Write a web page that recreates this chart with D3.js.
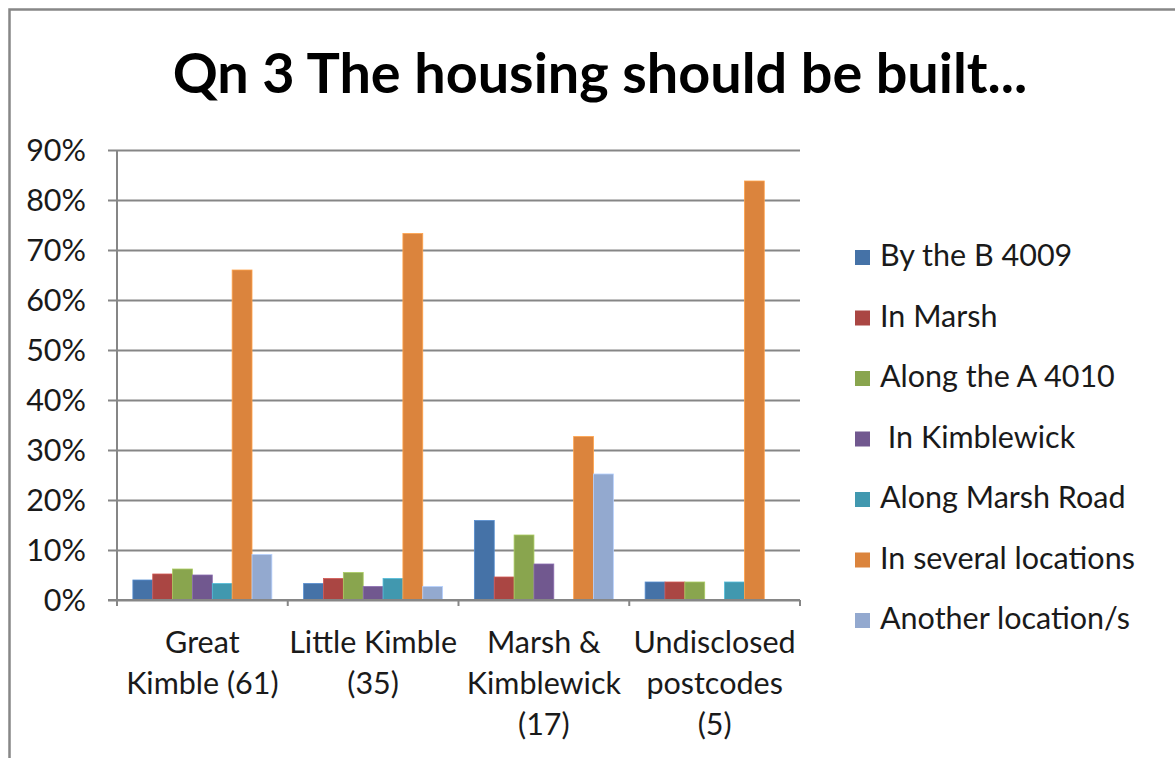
<!DOCTYPE html>
<html>
<head>
<meta charset="utf-8">
<script src="https://cdn.jsdelivr.net/npm/d3@7"></script>
<style>
  html, body { margin: 0; padding: 0; background: #fff; }
  svg { display: block; }
  text { font-family: Lato, "Open Sans", sans-serif; }
</style>
</head>
<body>
<svg id="chart" width="1175" height="758"></svg>
<script>
// ---- data ----
const title = "Qn 3 The housing should be built...";
const categories = ["Great Kimble (61)", "Little Kimble (35)", "Marsh & Kimblewick (17)", "Undisclosed postcodes (5)"];
const categoryLines = [["Great", "Kimble (61)"], ["Little Kimble", "(35)"], ["Marsh &", "Kimblewick", "(17)"], ["Undisclosed", "postcodes", "(5)"]];
const seriesNames = ["By the B 4009", "In Marsh", "Along the A 4010", " In Kimblewick", "Along Marsh Road", "In several locations", "Another location/s"];
const greatKimble   = [4.0, 5.2, 6.2, 5.0, 3.3, 66.0, 9.1];
const littleKimble  = [3.3, 4.3, 5.5, 2.7, 4.3, 73.3, 2.7];
const marshKimblewick = [15.9, 4.6, 13.0, 7.2, 0, 32.7, 25.2];
const undisclosed   = [3.6, 3.6, 3.6, 0, 3.6, 83.8, 0];
const yTicks = [0, 10, 20, 30, 40, 50, 60, 70, 80, 90];
const colors = ["#4572A7", "#AA4643", "#89A54E", "#71588F", "#4198AF", "#DB843D", "#93A9CF"];

const values = [greatKimble, littleKimble, marshKimblewick, undisclosed];

// ---- layout ----
const svg = d3.select("#chart");
const plot = { left: 117, right: 800, top: 150, bottom: 600 };
const gridColor = "#868686";

// measure helper to fit fonts
function fitSize(str, weight, target) {
  const t = svg.append("text").attr("font-size", 100).attr("font-weight", weight).text(str);
  const w = t.node().getComputedTextLength();
  t.remove();
  return 100 * target / w;
}
const labelSize = fitSize("In several locations", 400, 255);
const titleSize = fitSize(title, 700, 855);

// border
svg.append("rect").attr("x", 9.5).attr("y", 9.5).attr("width", 1300).attr("height", 900)
  .attr("fill", "#fff").attr("stroke", "#878787").attr("stroke-width", 2.5);

// title
svg.append("text").attr("x", 600).attr("y", 93).attr("text-anchor", "middle")
  .attr("font-weight", 700).attr("font-size", titleSize).attr("fill", "#000").text(title);

// scales
const y = d3.scaleLinear().domain([0, 90]).range([plot.bottom, plot.top]);
const x0 = d3.scaleBand().domain(categories).range([plot.left, plot.right]).padding(0);
const x1 = d3.scaleBand().domain(d3.range(seriesNames.length)).range([0, x0.bandwidth()])
  .paddingInner(0).paddingOuter(0.8);

// gridlines + y axis (D3 axis)
const yAxis = d3.axisLeft(y).tickValues(yTicks).tickSize(-(plot.right - plot.left)).tickFormat(d => d + "%");
const gy = svg.append("g").attr("transform", `translate(${plot.left},0)`).call(yAxis);
gy.select(".domain").remove();
gy.selectAll(".tick line").attr("stroke", gridColor).attr("stroke-width", 2).attr("x1", -9);
gy.selectAll(".tick text").attr("x", -31).attr("dy", null).attr("y", 10)
  .attr("font-size", labelSize).attr("fill", "#1a1a1a")
  .attr("font-family", "Lato, 'Open Sans', sans-serif");

// bars
const groups = svg.append("g").selectAll("g").data(categories).join("g")
  .attr("transform", d => `translate(${x0(d)},0)`);
groups.selectAll("rect").data((d, i) => values[i].map((v, k) => ({ v, k }))).join("rect")
  .attr("x", d => x1(d.k)).attr("width", x1.bandwidth())
  .attr("y", d => y(d.v)).attr("height", d => y(0) - y(d.v))
  .attr("fill", d => colors[d.k])
  .attr("stroke", d => d3.color(colors[d.k]).brighter(0.6)).attr("stroke-width", d => d.v > 0 ? 0.8 : 0);

// y axis line
svg.append("line").attr("x1", plot.left).attr("x2", plot.left).attr("y1", plot.top).attr("y2", plot.bottom + 6)
  .attr("stroke", gridColor).attr("stroke-width", 2);
// baseline
svg.append("line").attr("x1", plot.left - 9).attr("x2", plot.right).attr("y1", plot.bottom).attr("y2", plot.bottom)
  .attr("stroke", gridColor).attr("stroke-width", 2);
// category ticks
const bounds = categories.map(c => x0(c)).concat([plot.right]);
svg.append("g").selectAll("line").data(bounds).join("line")
  .attr("x1", d => d).attr("x2", d => d).attr("y1", plot.bottom).attr("y2", plot.bottom + 6)
  .attr("stroke", gridColor).attr("stroke-width", 2);

// category labels
const cl = svg.append("g").selectAll("text").data(categories).join("text")
  .attr("text-anchor", "middle").attr("font-size", labelSize).attr("fill", "#1a1a1a");
cl.each(function(d, i) {
  const cx = x0(d) + x0.bandwidth() / 2;
  d3.select(this).selectAll("tspan").data(categoryLines[i]).join("tspan")
    .attr("x", cx).attr("y", (s, j) => 653 + j * 41).text(s => s);
});

// legend
const leg = svg.append("g").selectAll("g").data(seriesNames).join("g")
  .attr("transform", (d, i) => `translate(855,${266 + i * 60.5})`);
leg.append("rect").attr("x", 0).attr("y", -16).attr("width", 15).attr("height", 15)
  .attr("fill", (d, i) => colors[i]);
leg.append("text").attr("x", 25).attr("y", 0).attr("font-size", labelSize).attr("fill", "#1a1a1a")
  .style("white-space", "pre").attr("xml:space", "preserve").text(d => d);
</script>
</body>
</html>
